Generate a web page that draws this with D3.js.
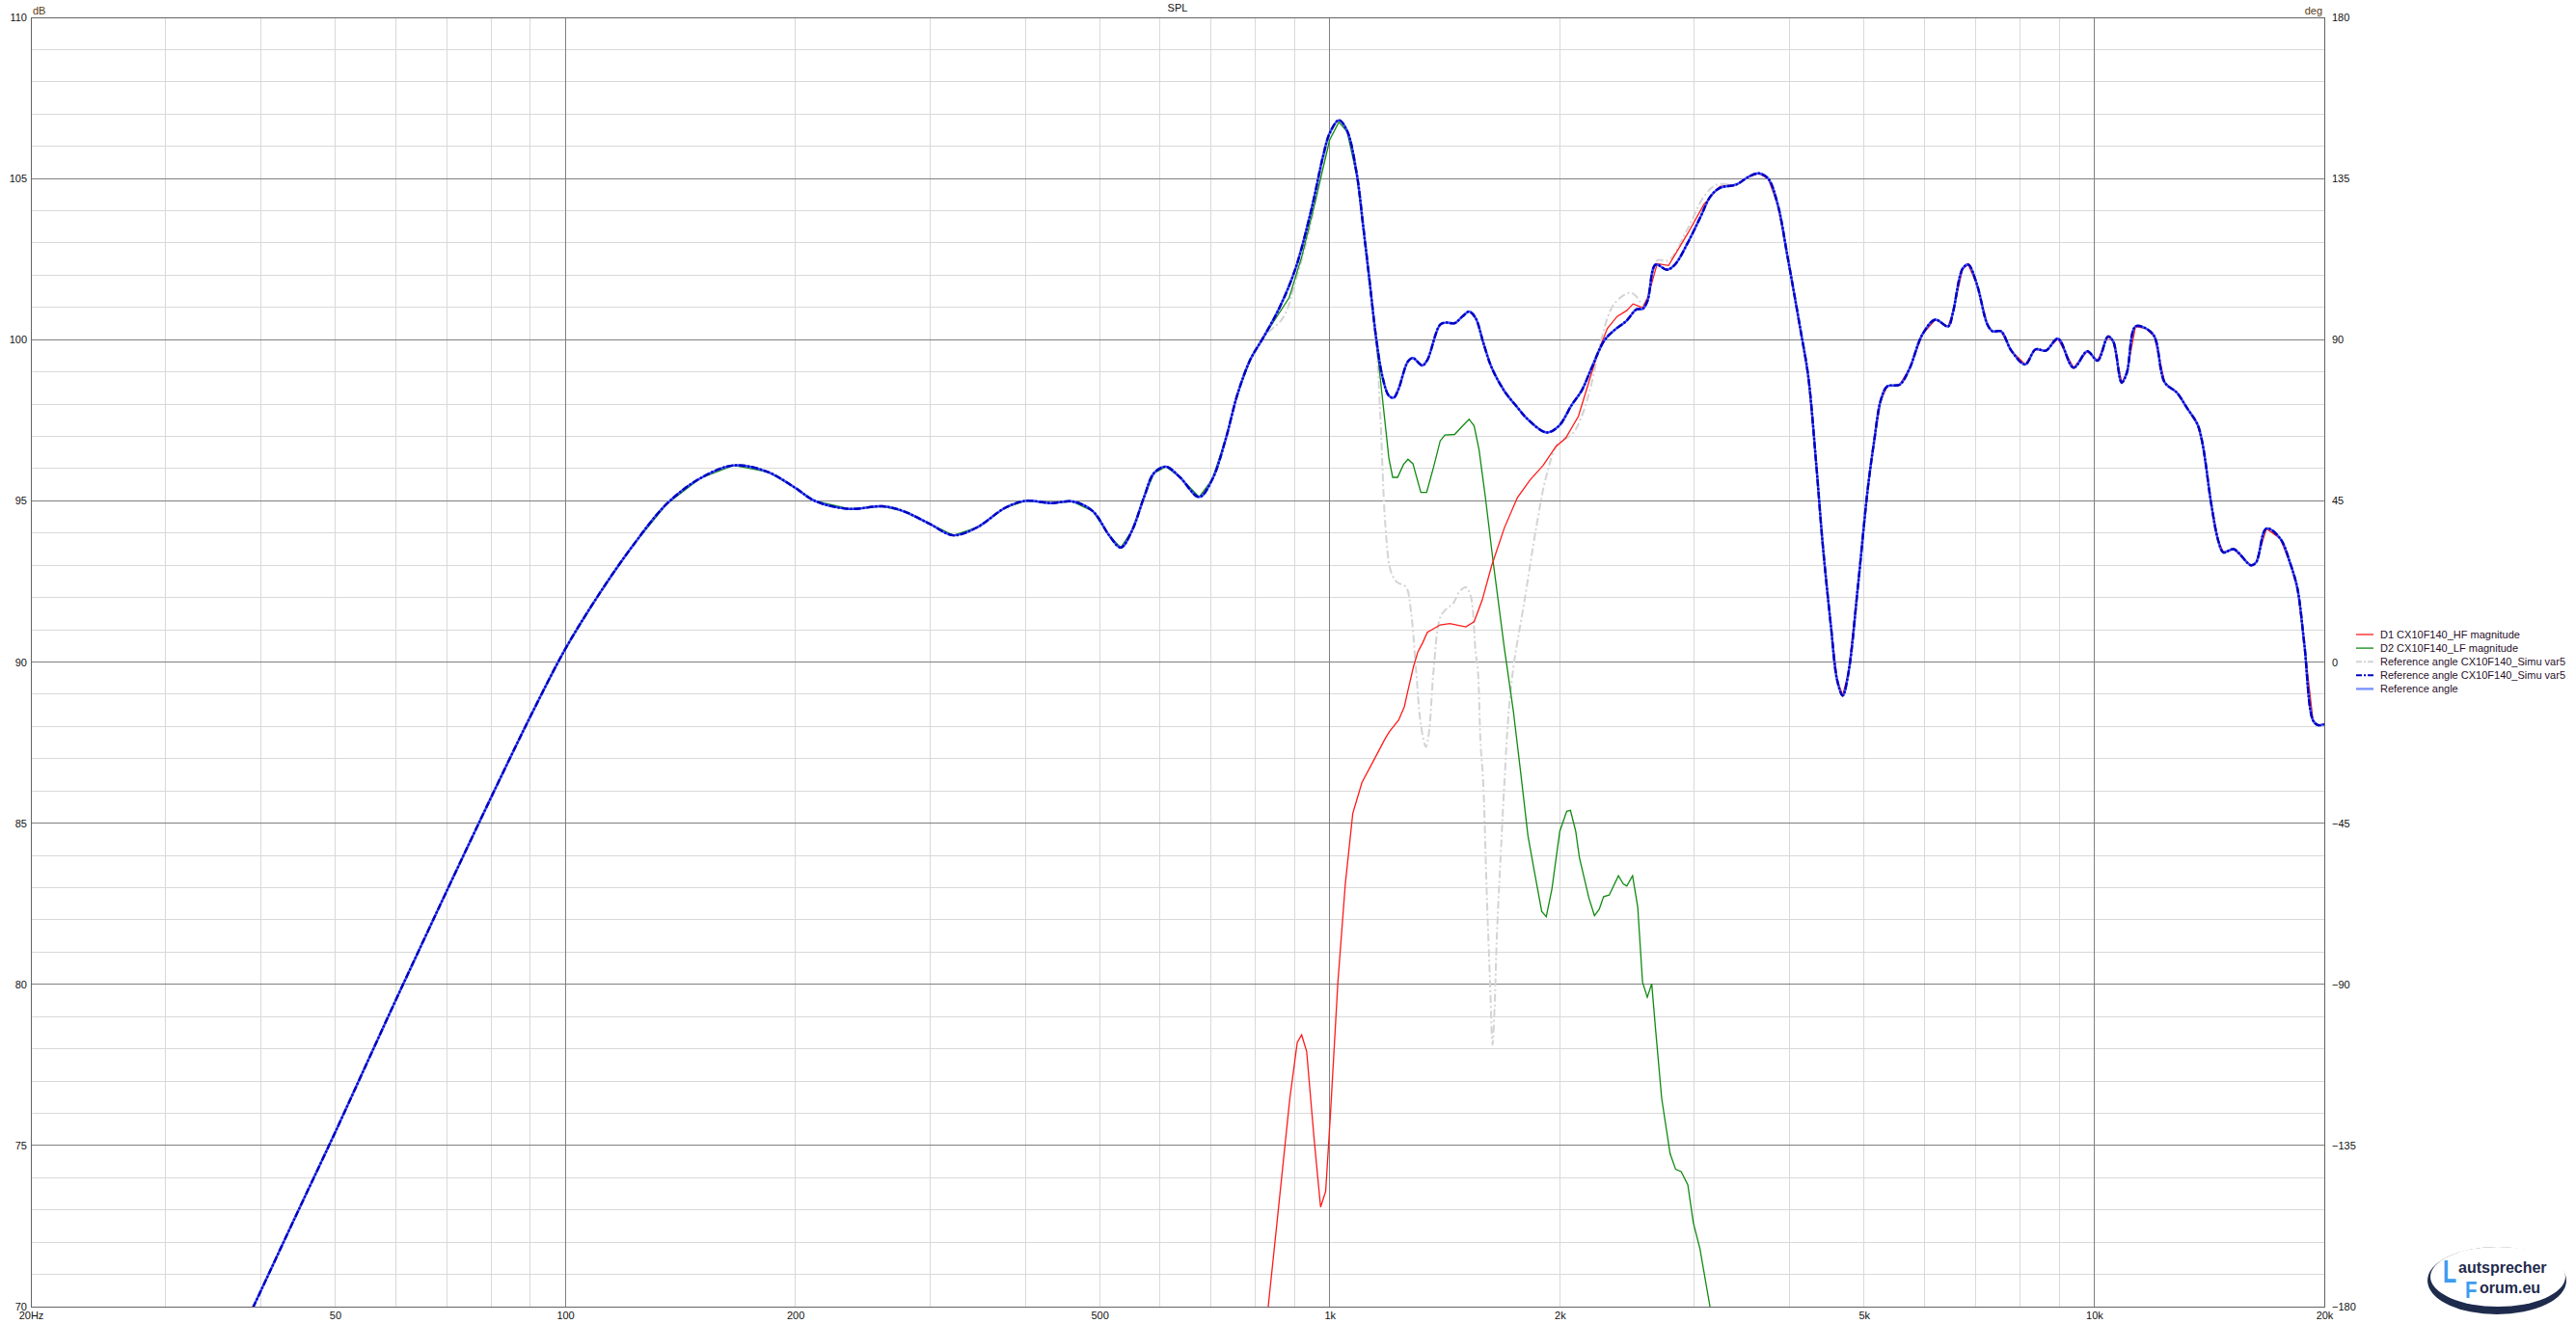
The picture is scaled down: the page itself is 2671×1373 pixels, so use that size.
<!DOCTYPE html>
<html>
<head>
<meta charset="utf-8">
<script src="https://cdn.jsdelivr.net/npm/d3@7"></script>
<style>
  body { margin: 0; background: #fff; }
  svg { display: block; }
</style>
</head>
<body>
<div id="chart"></div>
<script>
// Summed response (Simu var5) [Hz, dB]
const sumCurve = [
  [36, 68.2], [40, 70.5], [45, 73.1], [50, 75.4], [60, 79.5], [70, 82.9], [80, 85.8], [90, 88.3],
  [100, 90.4], [110.7, 92.1], [122.5, 93.6], [135.7, 94.9], [150.2, 95.7], [166, 96.1], [184, 95.9],
  [200, 95.4], [212, 95.0], [235, 94.75], [260, 94.83], [277, 94.68], [300, 94.28], [322, 93.93],
  [346, 94.18], [376, 94.78], [400, 95.0], [433, 94.93], [461, 94.98], [490, 94.68], [515, 93.92],
  [533, 93.55], [551, 94.06], [572, 95.13], [589, 95.86], [611, 96.06], [637, 95.73], [675, 95.12],
  [702, 95.66], [730, 96.86], [758, 98.33], [788, 99.4], [819, 100.07], [860, 101.0], [902, 102.2],
  [947, 104.07], [980, 105.68], [1000, 106.41], [1028, 106.81], [1054, 106.48], [1085, 105.14],
  [1106, 103.54], [1128, 101.8], [1150, 100.07], [1172, 98.86], [1195, 98.26], [1213, 98.2],
  [1230, 98.46], [1266, 99.33], [1285, 99.43], [1322, 99.2], [1342, 99.37], [1395, 100.47],
  [1422, 100.53], [1457, 100.51], [1493, 100.73], [1522, 100.87], [1552, 100.67], [1590, 99.87],
  [1629, 99.13], [1693, 98.4], [1760, 97.9], [1812, 97.55], [1920, 97.12], [1992, 97.31],
  [2075, 97.99], [2136, 98.42], [2199, 99.1], [2286, 99.97], [2353, 100.28], [2446, 100.59],
  [2519, 100.94], [2568, 100.96], [2605, 101.21], [2669, 102.33], [2761, 102.17], [2829, 102.33],
  [2941, 103.01], [3057, 103.82], [3147, 104.44], [3239, 104.71], [3401, 104.81], [3535, 105.06],
  [3639, 105.16], [3746, 105.0], [3856, 104.19], [3971, 102.58], [4126, 100.35], [4227, 98.86],
  [4330, 96.13], [4415, 93.65], [4523, 91.17], [4612, 89.43], [4689, 88.96], [4772, 89.68],
  [4912, 92.41], [5057, 95.38], [5156, 96.87], [5257, 98.11], [5361, 98.55], [5570, 98.61],
  [5734, 99.1], [5960, 100.16], [6196, 100.62], [6441, 100.41], [6535, 100.84], [6728, 102.2],
  [6845, 102.33], [7026, 101.71], [7250, 100.47], [7364, 100.26], [7554, 100.26], [7792, 99.66],
  [8124, 99.23], [8381, 99.7], [8646, 99.66], [8967, 100.03], [9397, 99.13], [9795, 99.64],
  [10105, 99.35], [10425, 100.1], [10590, 99.95], [10866, 98.67], [11036, 98.98], [11325, 100.41],
  [11683, 100.35], [11990, 100.1], [12369, 98.67], [12826, 98.36], [13235, 97.87], [13653, 97.37],
  [13866, 96.75], [14232, 94.89], [14530, 93.77], [14759, 93.4], [15226, 93.5], [16034, 93.0],
  [16288, 93.09], [16802, 94.14], [17515, 93.83], [18068, 93.03], [18446, 92.28], [18834, 90.55],
  [19330, 88.19], [19630, 88.04], [20000, 88.07]
];

// D1 HF magnitude, own part (above 3.3k it runs on the sum)
const hfOwn = [
  [815, 67.8], [831, 70.0], [858, 73.16], [887, 76.47], [907, 78.2], [919, 78.43], [933, 77.92],
  [954, 75.23], [973, 73.09], [988, 73.58], [1002, 75.92], [1025, 80.06], [1048, 83.09],
  [1072, 85.3], [1102, 86.26], [1146, 87.02], [1183, 87.64], [1198, 87.85], [1231, 88.2],
  [1252, 88.61], [1266, 89.12], [1287, 89.85], [1304, 90.31], [1324, 90.61], [1342, 90.92],
  [1395, 91.15], [1436, 91.19], [1507, 91.09], [1545, 91.25], [1583, 91.92], [1629, 92.99],
  [1693, 94.17], [1760, 95.1], [1829, 95.65], [1902, 96.1], [1977, 96.69], [2035, 96.94],
  [2115, 97.62], [2178, 98.61], [2243, 99.6], [2308, 100.35], [2377, 100.72], [2446, 100.9],
  [2494, 101.11], [2568, 100.99], [2605, 101.29], [2682, 102.36], [2775, 102.3], [2941, 103.3],
  [3087, 104.2], [3239, 104.75]
];

// D2 LF magnitude, own part (below 860 Hz it runs on the sum)
const lfOwn = [
  [885, 101.3], [920, 102.6], [960, 104.4], [1000, 106.2], [1028, 106.75], [1054, 106.45],
  [1085, 105.1], [1106, 103.5], [1128, 101.7], [1150, 100.0], [1172, 98.2], [1195, 96.33],
  [1209, 95.73], [1227, 95.73], [1249, 96.13], [1266, 96.29], [1285, 96.15], [1316, 95.26],
  [1339, 95.26], [1368, 96.06], [1395, 96.86], [1415, 97.04], [1457, 97.06], [1493, 97.33],
  [1522, 97.53], [1545, 97.33], [1568, 96.59], [1598, 95.13], [1636, 93.12], [1693, 90.4],
  [1739, 88.47], [1777, 86.6], [1817, 84.61], [1848, 83.64], [1894, 82.26], [1920, 82.1],
  [1953, 82.96], [2000, 84.75], [2042, 85.37], [2065, 85.4], [2098, 84.75], [2122, 83.92],
  [2183, 82.68], [2220, 82.13], [2252, 82.33], [2282, 82.72], [2321, 82.77], [2386, 83.37],
  [2421, 83.12], [2447, 83.05], [2490, 83.37], [2529, 82.4], [2566, 80.06], [2603, 79.6],
  [2638, 80.02], [2667, 78.68], [2718, 76.47], [2788, 74.75], [2835, 74.26], [2883, 74.19],
  [2941, 73.78], [2990, 72.6], [3050, 71.8], [3144, 70.0], [3180, 69.0]
];

// light grey reference (other Simu var5), own part
const simOwn = [
  [870, 100.7], [902, 101.8], [947, 103.7], [980, 105.5], [1000, 106.3], [1028, 106.8],
  [1054, 106.48], [1085, 105.14], [1106, 103.54], [1128, 101.8], [1150, 100.0], [1165, 97.6],
  [1183, 94.19], [1201, 92.85], [1220, 92.52], [1230, 92.45], [1259, 92.32], [1278, 91.52],
  [1297, 89.78], [1316, 88.05], [1336, 87.37], [1348, 87.78], [1368, 89.78], [1395, 91.38],
  [1422, 91.65], [1450, 91.81], [1479, 92.19], [1507, 92.32], [1529, 92.05], [1552, 90.32],
  [1563, 89.71], [1575, 87.51], [1588, 86.26], [1605, 82.82], [1621, 80.04], [1633, 78.13],
  [1643, 79.23], [1655, 81.57], [1672, 83.78], [1689, 85.85], [1715, 88.47], [1743, 90.0],
  [1795, 91.79], [1866, 94.27], [1920, 95.76], [1992, 96.81], [2075, 97.06], [2136, 97.62],
  [2199, 98.61], [2264, 99.97], [2353, 101.09], [2470, 101.46], [2519, 101.34], [2568, 101.09],
  [2617, 101.46], [2682, 102.46], [2775, 102.46], [2941, 103.45], [3087, 104.44], [3208, 104.81]
];

const xTickValues = [20, 50, 100, 200, 500, 1000, 2000, 5000, 10000, 20000];
const xTickLabels = ["20Hz", "50", "100", "200", "500", "1k", "2k", "5k", "10k", "20k"];
const dbTicks = [70, 75, 80, 85, 90, 95, 100, 105, 110];
const degTicks = [-180, -135, -90, -45, 0, 45, 90, 135, 180];
const legendNames = [
  "D1 CX10F140_HF magnitude",
  "D2 CX10F140_LF magnitude",
  "Reference angle CX10F140_Simu var5",
  "Reference angle CX10F140_Simu var5",
  "Reference angle"
];

const lowShared = sumCurve.filter(d => d[0] < 860);
const highShared = sumCurve.filter(d => d[0] > 3300);
const hfCurve = hfOwn.concat(highShared);
const lfCurve = lowShared.concat(lfOwn);
const simCurve = lowShared.concat(simOwn, highShared);

const W = 2671, H = 1373;
const plot = {left: 32, right: 2410, top: 18, bottom: 1355};
const font = "'Liberation Sans', Arial, sans-serif";

const svg = d3.select("#chart").append("svg")
    .attr("width", W)
    .attr("height", H);

const x = d3.scaleLog().domain([20, 20000]).range([plot.left, plot.right]);
const y = d3.scaleLinear().domain([70, 110]).range([plot.bottom, plot.top]);
const yDeg = d3.scaleLinear().domain([-180, 180]).range([plot.bottom, plot.top]);

// grid
const grid = svg.append("g");
const minorX = [];
[10, 100, 1000].forEach(dec => {
    for (let m = 2; m <= 9; m++) {
        const f = dec * m;
        if (f > 20 && f < 20000) minorX.push(f);
    }
});
grid.selectAll(".vminor").data(minorX).join("line")
    .attr("x1", d => x(d)).attr("x2", d => x(d))
    .attr("y1", plot.top).attr("y2", plot.bottom)
    .attr("stroke", "#d9d9d9").attr("stroke-width", 1).attr("shape-rendering", "crispEdges");
grid.selectAll(".hminor").data(d3.range(71, 110).filter(v => v % 5 !== 0)).join("line")
    .attr("x1", plot.left).attr("x2", plot.right)
    .attr("y1", d => y(d)).attr("y2", d => y(d))
    .attr("stroke", "#d9d9d9").attr("stroke-width", 1).attr("shape-rendering", "crispEdges");
grid.selectAll(".vmajor").data([100, 1000, 10000]).join("line")
    .attr("x1", d => x(d)).attr("x2", d => x(d))
    .attr("y1", plot.top).attr("y2", plot.bottom)
    .attr("stroke", "#808080").attr("stroke-width", 1).attr("shape-rendering", "crispEdges");
grid.selectAll(".hmajor").data([75, 80, 85, 90, 95, 100, 105]).join("line")
    .attr("x1", plot.left).attr("x2", plot.right)
    .attr("y1", d => y(d)).attr("y2", d => y(d))
    .attr("stroke", "#808080").attr("stroke-width", 1).attr("shape-rendering", "crispEdges");

// curves
svg.append("clipPath").attr("id", "clip").append("rect")
    .attr("x", plot.left).attr("y", plot.top)
    .attr("width", plot.right - plot.left).attr("height", plot.bottom - plot.top);

const line = d3.line().x(d => x(d[0])).y(d => y(d[1]));
const smooth = d3.line().x(d => x(d[0])).y(d => y(d[1])).curve(d3.curveCatmullRom.alpha(0.5));

const curves = svg.append("g").attr("clip-path", "url(#clip)");
curves.append("path").datum(simCurve).attr("d", smooth)
    .attr("fill", "none").attr("stroke", "#d4d4d4").attr("stroke-width", 2)
    .attr("stroke-dasharray", "8,3,2,3");
curves.append("path").datum(lfCurve).attr("d", line)
    .attr("fill", "none").attr("stroke", "#118a11").attr("stroke-width", 1.3);
curves.append("path").datum(hfCurve).attr("d", line)
    .attr("fill", "none").attr("stroke", "#ff1a1a").attr("stroke-width", 1.3);
curves.append("path").datum(sumCurve).attr("d", smooth)
    .attr("fill", "none").attr("stroke", "#3a4cff").attr("stroke-width", 2.4);
curves.append("path").datum(sumCurve).attr("d", smooth)
    .attr("fill", "none").attr("stroke", "#0000c0").attr("stroke-width", 2.4)
    .attr("stroke-dasharray", "7,2,2,2");

// border
svg.append("rect")
    .attr("x", plot.left + 0.5).attr("y", plot.top + 0.5)
    .attr("width", plot.right - plot.left).attr("height", plot.bottom - plot.top)
    .attr("fill", "none").attr("stroke", "#646464").attr("stroke-width", 1);

// axes
function styleAxis(g) {
    g.select(".domain").remove();
    g.attr("font-family", font).attr("font-size", 11);
    g.selectAll("text").attr("fill", "#111");
}
svg.append("g")
    .attr("transform", `translate(0,${plot.bottom})`)
    .call(d3.axisBottom(x).tickValues(xTickValues).tickFormat((d, i) => xTickLabels[i]).tickSize(0).tickPadding(5))
    .call(styleAxis);
svg.append("g")
    .attr("transform", `translate(${plot.left},0)`)
    .call(d3.axisLeft(y).tickValues(dbTicks).tickSize(0).tickPadding(4))
    .call(styleAxis);
svg.append("g")
    .attr("transform", `translate(${plot.right},0)`)
    .call(d3.axisRight(yDeg).tickValues(degTicks).tickSize(0).tickPadding(8))
    .call(styleAxis);

svg.append("text").attr("x", 34).attr("y", 15).text("dB")
    .attr("font-family", font).attr("font-size", 11).attr("fill", "#5a3a10");
svg.append("text").attr("x", 2408).attr("y", 15).attr("text-anchor", "end").text("deg")
    .attr("font-family", font).attr("font-size", 11).attr("fill", "#5a3a10");
svg.append("text").attr("x", (plot.left + plot.right) / 2).attr("y", 12).attr("text-anchor", "middle").text("SPL")
    .attr("font-family", font).attr("font-size", 11).attr("fill", "#111");

// legend
const legendStyles = [
    {stroke: "#ff1a1a", width: 1.3, dash: null},
    {stroke: "#118a11", width: 1.3, dash: null},
    {stroke: "#d4d4d4", width: 2, dash: "6,2,2,2"},
    {stroke: "#0000c0", width: 2, dash: "6,2,2,2"},
    {stroke: "#7b94ff", width: 2.4, dash: null}
];
const legend = svg.append("g").attr("transform", "translate(2443,658)");
const rows = legend.selectAll("g").data(legendNames).join("g")
    .attr("transform", (d, i) => `translate(0,${i * 14.1})`);
rows.append("line")
    .attr("x1", 0).attr("x2", 18).attr("y1", 0).attr("y2", 0)
    .attr("stroke", (d, i) => legendStyles[i].stroke)
    .attr("stroke-width", (d, i) => legendStyles[i].width)
    .attr("stroke-dasharray", (d, i) => legendStyles[i].dash);
rows.append("text")
    .attr("x", 25).attr("y", 4)
    .attr("font-family", font).attr("font-size", 11).attr("fill", "#2a0f2a")
    .text(d => d);

// logo
const logo = svg.append("g");
logo.append("ellipse").attr("cx", 2589).attr("cy", 1328).attr("rx", 72).attr("ry", 35).attr("fill", "#1f2b4d");
logo.append("ellipse").attr("cx", 2590).attr("cy", 1324).attr("rx", 70).attr("ry", 31).attr("fill", "#fff");
logo.append("text").text("L")
    .attr("transform", "translate(2533,1330) scale(0.68,1)")
    .attr("font-family", font).attr("font-weight", "bold").attr("font-size", 34).attr("fill", "#3d9cf0");
logo.append("text").attr("x", 2549).attr("y", 1320).text("autsprecher")
    .attr("font-family", font).attr("font-weight", "bold").attr("font-size", 16).attr("fill", "#1f2b4d");
logo.append("text").text("F")
    .attr("transform", "translate(2556,1346) scale(0.85,1)")
    .attr("font-family", font).attr("font-weight", "bold").attr("font-size", 24).attr("fill", "#3d9cf0");
logo.append("text").attr("x", 2571).attr("y", 1341).text("orum.eu")
    .attr("font-family", font).attr("font-weight", "bold").attr("font-size", 16).attr("fill", "#1f2b4d");
</script>
</body>
</html>
